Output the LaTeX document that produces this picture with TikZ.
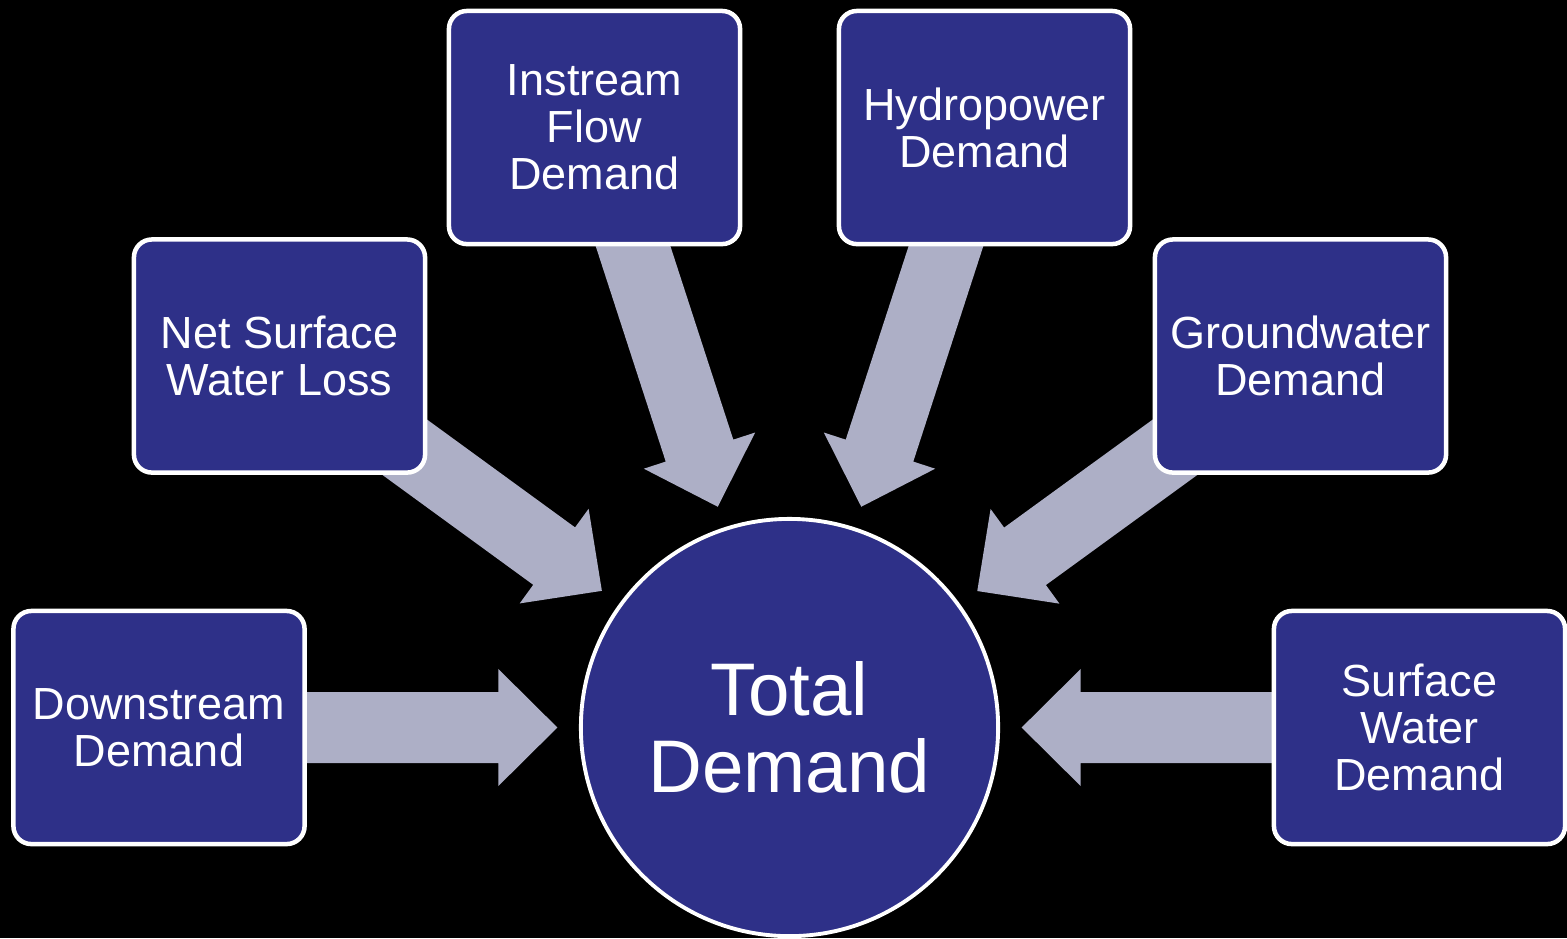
\documentclass[tikz,border=0pt]{standalone}
\usepackage{fontspec}
\setmainfont{Liberation Sans}
\usetikzlibrary{calc}
\definecolor{boxblue}{RGB}{46,48,136}
\definecolor{arrowgrey}{RGB}{173,175,198}
\pgfdeclarelayer{bg}
\pgfdeclarelayer{arrowlayer}
\pgfsetlayers{bg,arrowlayer,main}
\newcommand{\convarrow}[2]{%
  \coordinate (tp) at ($(#2.center)!2.32cm!(#1.center)$);
  \coordinate (hb) at ($(tp)!0.59cm!(#1.center)$);
  \fill[arrowshape]
    ($(#1.center)!0.355cm!90:(tp)$) -- ($(hb)!0.355cm!90:(tp)$) --
    ($(hb)!0.585cm!90:(tp)$) -- (tp) -- ($(hb)!0.585cm!-90:(tp)$) --
    ($(hb)!0.355cm!-90:(tp)$) -- ($(#1.center)!0.355cm!-90:(tp)$) -- cycle;
}
\begin{document}
\begin{tikzpicture}[x=0.01cm,y=-0.01cm,
  box/.style={draw=white, line width=1.28pt, fill=boxblue, rounded corners=0.18cm,
    minimum width=2.91cm, minimum height=2.33cm, text=white, align=center,
    font=\fontsize{12.8pt}{13.4pt}\selectfont, inner sep=0pt},
  hub/.style={circle, draw=white, line width=1.1pt, fill=boxblue, minimum size=4.17cm,
    text=white, align=center, font=\fontsize{21.2pt}{21.8pt}\selectfont, inner sep=0pt},
  arrowshape/.style={fill=arrowgrey}]
\begin{pgfonlayer}{bg}
  \fill[black] (0,0) rectangle (1567,938);
\end{pgfonlayer}
\useasboundingbox (0,0) rectangle (1567,938);
\node[hub] (total) at (789.5,727.5) {Total\\Demand};
\node[box] (down) at (159,727.5) {Downstream\\Demand};
\node[box] (net) at (279.5,356) {Net Surface\\Water Loss};
\node[box] (instream) at (594.5,127.5) {Instream\\Flow\\Demand};
\node[box] (hydro) at (984.5,127.5) {Hydropower\\Demand};
\node[box] (ground) at (1300.5,356) {Groundwater\\Demand};
\node[box] (surface) at (1419.5,727.5) {Surface\\Water\\Demand};
\begin{pgfonlayer}{arrowlayer}
  \convarrow{down}{total}
  \convarrow{net}{total}
  \convarrow{instream}{total}
  \convarrow{hydro}{total}
  \convarrow{ground}{total}
  \convarrow{surface}{total}
\end{pgfonlayer}
\end{tikzpicture}
\end{document}
